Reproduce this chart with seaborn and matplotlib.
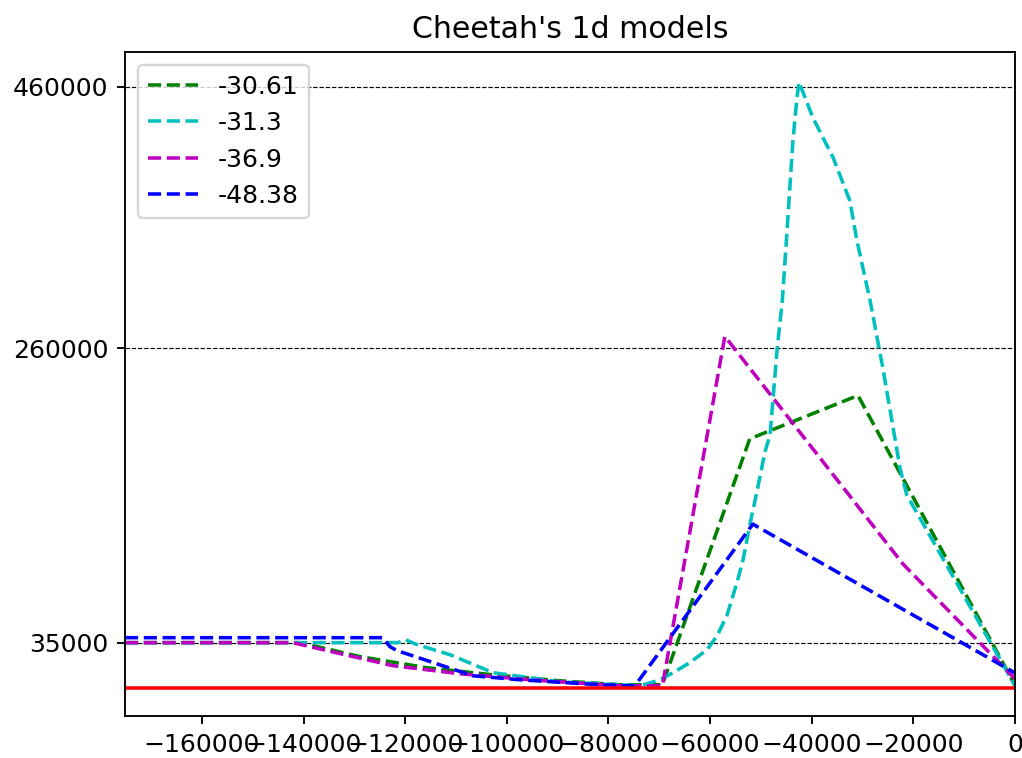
import matplotlib
matplotlib.use("Agg")
import matplotlib.pyplot as plt
import seaborn as sns

# Model curves: x positions and values for each run
green_x = [-175150, -140700, -128900, -115700, -102700, -89500, -77700, -69400,
           -52200, -30900, 0]
green_y = [35000, 35000, 24300, 15800, 10400, 5800, 2800, 2800,
           190800, 223900, 2500]

cyan_x = [-175150, -121400, -120000, -117700, -111200, -102700, -89500, -73800,
          -71800, -69900, -67300, -64000, -60600, -58600, -56700, -54700,
          -53500, -52200, -50800, -49200, -48200, -46800,
          -45800, -44900, -43700, -42900, -42500, -39800, -35800, -32500,
          -31100, -28500, -26000, -22600, -21300, 0]
cyan_y = [35000, 35000, 37300, 33500, 25800, 12000, 5100, 2000,
          4300, 6600, 12000, 19700, 29600, 40400, 55700, 81100,
          98700, 124800, 150200, 180900, 193900, 260000,
          296100, 347500, 418900, 451900, 463400, 436500, 405800, 372800,
          342100, 296100, 244700, 167800, 147900, 2000]

magenta_x = [-175150, -142100, -135400, -122400, -109200, -95400, -77700,
             -69400, -57100, -22000, 0]
magenta_y = [35000, 35000, 28900, 17400, 11200, 6600, 2000,
             2000, 269100, 94900, 7400]

blue_x = [-175150, -124400, -123000, -121600, -106700, -97400, -81700,
          -74800, -51600, 0]
blue_y = [38800, 38800, 31900, 28900, 9700, 6600, 2800,
          2000, 125600, 11900]

series_labels = ["-30.61", "-31.3", "-36.9", "-48.38"]
series_colors = ["g", "c", "m", "b"]

baseline = 0
x_min, x_max = -175150, 0
y_ticks = [35000, 260000, 460000]

plt.rcParams["font.size"] = 10.6

fig = plt.figure(figsize=(1022 / 170, 758 / 170), dpi=170)
ax = fig.add_axes([125 / 1022, 1 - 716 / 758, (1015 - 125) / 1022, (716 - 52) / 758])

curves = [(green_x, green_y), (cyan_x, cyan_y), (magenta_x, magenta_y), (blue_x, blue_y)]
for (xs, ys), lab, col in zip(curves, series_labels, series_colors):
    sns.lineplot(x=xs, y=ys, ax=ax, color=col, linestyle="--", linewidth=1.5,
                 label=lab, estimator=None, sort=False)

ax.axhline(baseline, color="r", linewidth=1.5)

ax.set_xlim(x_min, x_max)
ax.set_yticks(y_ticks)
ax.set_xlabel("")
ax.set_ylabel("")
ax.yaxis.grid(True, linestyle="--", color="black", linewidth=0.5)
ax.set_title("Cheetah's 1d models")
ax.legend(loc="upper left")

fig.savefig("out.png", dpi=170)
